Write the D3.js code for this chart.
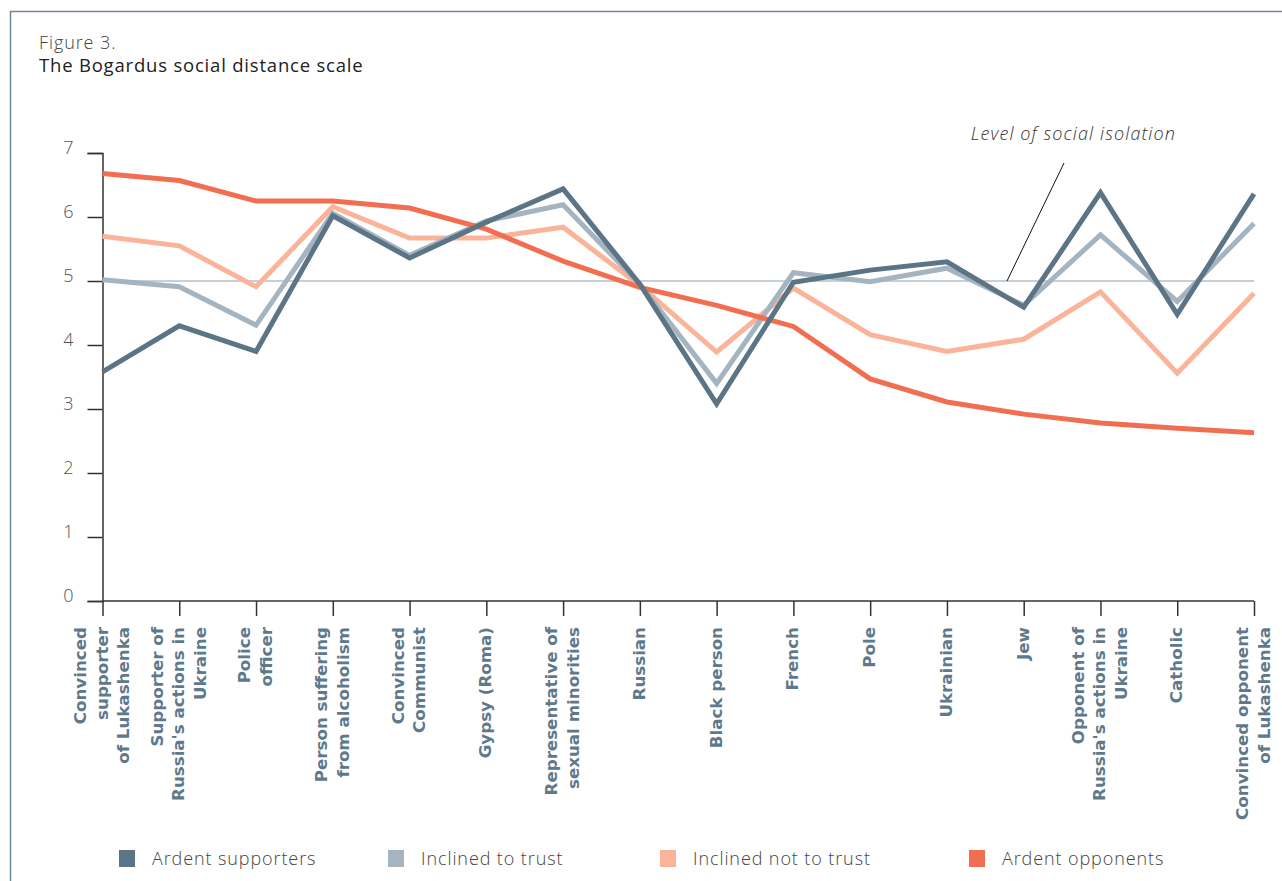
<!DOCTYPE html>
<html>
<head>
<meta charset="utf-8">
<script src="https://cdn.jsdelivr.net/npm/d3@7"></script>
<style>
  html, body { margin: 0; padding: 0; background: #fff; }
  #chart { width: 1282px; height: 881px; }
</style>
</head>
<body>
<div id="chart"></div>
<script>
// Categories (x axis), each label split into its lines
const categories = [
    ["Convinced", "supporter", "of Lukashenka"],
    ["Supporter of", "Russia's actions in", "Ukraine"],
    ["Police", "officer"],
    ["Person suffering", "from alcoholism"],
    ["Convinced", "Communist"],
    ["Gypsy (Roma)"],
    ["Representative of", "sexual minorities"],
    ["Russian"],
    ["Black person"],
    ["French"],
    ["Pole"],
    ["Ukrainian"],
    ["Jew"],
    ["Opponent of", "Russia's actions in", "Ukraine"],
    ["Catholic"],
    ["Convinced opponent", "of Lukashenka"]
];

const ardentSupporters = [3.58, 4.3, 3.9, 6.02, 5.36, 5.92, 6.44, 4.95, 3.08, 4.98, 5.17, 5.3, 4.59, 6.38, 4.48, 6.36];
const inclinedToTrust = [5.02, 4.91, 4.31, 6.06, 5.4, 5.94, 6.19, 4.95, 3.4, 5.13, 4.99, 5.2, 4.62, 5.72, 4.68, 5.9];
const inclinedNotToTrust = [5.7, 5.55, 4.91, 6.16, 5.67, 5.67, 5.84, 4.93, 3.89, 4.89, 4.16, 3.9, 4.09, 4.83, 3.56, 4.81];
const ardentOpponents = [6.68, 6.57, 6.25, 6.25, 6.14, 5.81, 5.31, 4.9, 4.62, 4.29, 3.47, 3.11, 2.92, 2.78, 2.7, 2.63];

const yTicks = [0, 1, 2, 3, 4, 5, 6, 7];
const isolationLevel = 5;

const series = [
    { name: "Ardent supporters", values: ardentSupporters, color: "#5b7486", z: 3 },
    { name: "Inclined to trust", values: inclinedToTrust, color: "#a4b4c1", z: 1 },
    { name: "Inclined not to trust", values: inclinedNotToTrust, color: "#fbb49a", z: 0 },
    { name: "Ardent opponents", values: ardentOpponents, color: "#f26e50", z: 2 }
];

const lightFont = "'Open Sans', Lato, sans-serif";

const W = 1282, H = 881;
const svg = d3.select("#chart").append("svg")
    .attr("width", W)
    .attr("height", H);

// frame
svg.append("path")
    .attr("d", `M10.5,${H} L10.5,11.5 L${W},11.5`)
    .attr("fill", "none")
    .attr("stroke", "#71879a")
    .attr("stroke-width", 1.5);

// title
svg.append("text")
    .attr("x", 39).attr("y", 49)
    .attr("fill", "#444")
    .style("font-family", lightFont)
    .style("font-weight", 300)
    .style("font-size", "18px")
    .style("letter-spacing", "0.9px")
    .text("Figure 3.");
svg.append("text")
    .attr("x", 39).attr("y", 72)
    .attr("fill", "#222")
    .style("font-family", lightFont)
    .style("font-weight", 500)
    .style("font-size", "18.5px")
    .style("letter-spacing", "0.8px")
    .text("The Bogardus social distance scale");

const x = d3.scalePoint()
    .domain(d3.range(categories.length))
    .range([102.5, 1254]);
const y = d3.scaleLinear()
    .domain([0, 7])
    .range([601, 153]);

// y axis
const yAxis = svg.append("g")
    .attr("transform", `translate(${x(0)},0)`)
    .call(d3.axisLeft(y).tickValues(yTicks).tickFormat(d3.format("d")).tickSize(15).tickPadding(14));
yAxis.select(".domain").attr("stroke", "#333").attr("stroke-width", 1.5);
yAxis.selectAll(".tick line").attr("stroke", "#333").attr("stroke-width", 1.5);
yAxis.selectAll(".tick text")
    .attr("fill", "#555")
    .attr("dy", "0.05em")
    .style("font-family", lightFont)
    .style("font-weight", 300)
    .style("font-size", "18px");

// x axis
const xAxis = svg.append("g")
    .attr("transform", `translate(0,${y(0)})`)
    .call(d3.axisBottom(x).tickSize(15).tickFormat(""));
xAxis.select(".domain").attr("stroke", "#333").attr("stroke-width", 1.5)
    .attr("d", `M${x(0)},0H${x(categories.length - 1)}`);
xAxis.selectAll(".tick line").attr("stroke", "#333").attr("stroke-width", 1.5);

// x labels, rotated, right-aligned at the top
const lineGap = 21.5;
categories.forEach((lines, i) => {
    const y0 = 5 - (lines.length - 1) * lineGap / 2;
    const t = svg.append("text")
        .attr("transform", `translate(${x(i)},627) rotate(-90)`)
        .attr("text-anchor", "end")
        .attr("fill", "#5e798b")
        .style("font-family", "'DejaVu Sans', sans-serif")
        .style("font-weight", 700)
        .style("font-size", "16.7px");
    lines.forEach((l, j) => {
        t.append("tspan")
            .attr("x", 0)
            .attr("y", y0 + j * lineGap)
            .text(l);
    });
});

// level of social isolation line
svg.append("line")
    .attr("x1", x(0)).attr("x2", x(categories.length - 1))
    .attr("y1", y(isolationLevel)).attr("y2", y(isolationLevel))
    .attr("stroke", "#8aa0b3")
    .attr("stroke-width", 1);

// series lines
const line = d3.line()
    .x((d, i) => x(i))
    .y(d => y(d));
series.slice().sort((a, b) => a.z - b.z).forEach(s => {
    svg.append("path")
        .datum(s.values)
        .attr("d", line)
        .attr("fill", "none")
        .attr("stroke", s.color)
        .attr("stroke-width", 5)
        .attr("stroke-linejoin", "miter");
});

// annotation
svg.append("line")
    .attr("x1", 1064).attr("y1", 163)
    .attr("x2", 1007).attr("y2", y(isolationLevel))
    .attr("stroke", "#111")
    .attr("stroke-width", 1);
svg.append("text")
    .attr("x", 1176).attr("y", 140)
    .attr("text-anchor", "end")
    .attr("fill", "#333")
    .style("font-family", lightFont)
    .style("font-weight", 300)
    .style("font-style", "italic")
    .style("font-size", "18px")
    .style("letter-spacing", "1.1px")
    .text("Level of social isolation");

// legend
const legendX = [119, 388, 660, 969];
series.forEach((s, i) => {
    svg.append("rect")
        .attr("x", legendX[i]).attr("y", 850)
        .attr("width", 16).attr("height", 17)
        .attr("fill", s.color);
    svg.append("text")
        .attr("x", legendX[i] + 33).attr("y", 865)
        .attr("fill", "#444")
        .style("font-family", lightFont)
        .style("font-weight", 300)
        .style("font-size", "18px")
        .style("letter-spacing", "0.9px")
        .text(s.name);
});
</script>
</body>
</html>
